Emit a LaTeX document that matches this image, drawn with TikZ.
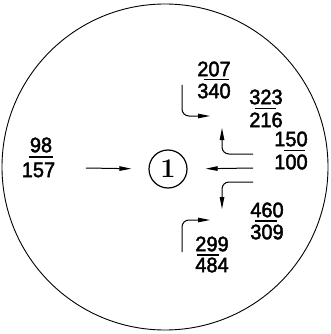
\documentclass[tikz,border=0pt]{standalone}
\usepackage{fontspec}
\newfontfamily\numfont[FakeBold=2.2,FakeStretch=0.95]{Liberation Sans}
\usetikzlibrary{arrows.meta}
\begin{document}
\begin{tikzpicture}[x=1pt,y=-1pt,
  num/.style={font=\numfont\fontsize{21}{21}\selectfont, inner sep=0pt},
  arr/.style={-{Triangle[length=12pt,width=4.5pt]}, line width=1pt},
  bar/.style={line width=1.3pt}]
\useasboundingbox (0,0) rectangle (330,334);
\draw[line width=0.9pt] (165,167) circle[radius=163];
\node[circle,draw,line width=1.2pt,minimum size=38pt,inner sep=0pt,
  font=\fontsize{27}{27}\selectfont\bfseries] (one) at (168,169) {1};
% fractions
\node[num] (n98) at (41,145) {98};
\node[num] (n157) at (38.5,170) {157};
\draw[bar] (29,157) -- (53,157);
\node[num] (n207) at (214,69) {207};
\node[num] (n340) at (214,91) {340};
\draw[bar] (204,79.5) -- (229,79.5);
\node[num] (n323) at (266,97) {323};
\node[num] (n216) at (266,120) {216};
\draw[bar] (255,108.5) -- (276,108.5);
\node[num] (n150) at (291,139) {150};
\node[num] (n100) at (291,162) {100};
\draw[bar] (284,150.5) -- (305,150.5);
\node[num] (n460) at (267,210) {460};
\node[num] (n309) at (267,232) {309};
\draw[bar] (255,221) -- (277,221);
\node[num] (n299) at (212,244) {299};
\node[num] (n484) at (212,265) {484};
\draw[bar] (197,255) -- (219,255);
% connectors
\coordinate (a1) at (86,168);
\coordinate (a2) at (253,168);
\coordinate (b1s) at (253,154);
\coordinate (b1e) at (222,128);
\coordinate (b2s) at (253,182);
\coordinate (b2e) at (222,209);
\coordinate (c1s) at (182,85);
\coordinate (c1e) at (210,116);
\coordinate (c2s) at (182,252);
\coordinate (c2e) at (210,220);
\draw[arr,shorten >=17pt] (a1) -- (one.west);
\draw[arr,shorten >=18pt] (a2) -- (one.east);
\draw[arr,rounded corners=7pt] (b1s) -| (b1e);
\draw[arr,rounded corners=7pt] (b2s) -| (b2e);
\draw[arr,rounded corners=7pt] (c1s) |- (c1e);
\draw[arr,rounded corners=7pt] (c2s) |- (c2e);
\end{tikzpicture}
\end{document}
